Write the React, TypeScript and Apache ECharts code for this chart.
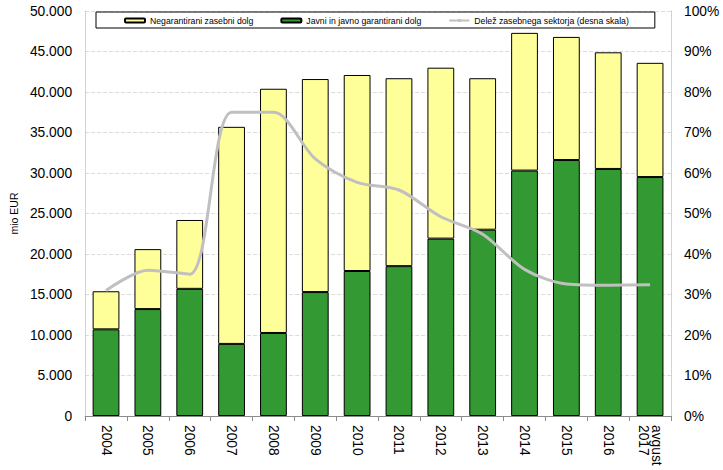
import React, { useEffect, useRef } from "react";
import * as echarts from "echarts";

const categories = ["2004", "2005", "2006", "2007", "2008", "2009", "2010", "2011", "2012", "2013", "2014", "2015", "2016", "avgust\n2017"];
const publicDebt = [10700, 13200, 15700, 8900, 10250, 15300, 17900, 18500, 21900, 23000, 30300, 31600, 30500, 29500];
const privateDebt = [4700, 7400, 8500, 26800, 30150, 26300, 24200, 23200, 21100, 18700, 17000, 15200, 14400, 14100];
const privateShare = [31, 36, 35, 75, 75, 63.5, 57.7, 55.8, 49.2, 44.9, 36.2, 32.6, 32.3, 32.4];

const FONT = "'Liberation Sans', Arial, sans-serif";

function fmtThousands(v: number): string {
  const s = Math.round(v).toString();
  return s.replace(/\B(?=(\d{3})+(?!\d))/g, ".");
}

export default function App() {
  const ref = useRef<HTMLDivElement>(null);
  useEffect(() => {
    if (!ref.current) return;
    const chart = echarts.init(ref.current, undefined, { renderer: "svg" });
    chart.setOption({
      animation: false,
      backgroundColor: "#ffffff",
      textStyle: { fontFamily: FONT },
      grid: { left: 76, right: 52, top: 11, bottom: 54, containLabel: false },
      legend: {
        left: 96,
        top: 12,
        padding: [4, 26, 3, 28],
        itemGap: 27,
        itemWidth: 20,
        itemHeight: 4,
        backgroundColor: "#ffffff",
        borderColor: "#000000",
        borderWidth: 1,
        borderRadius: 0,
        textStyle: { fontSize: 8.7, color: "#000", fontFamily: FONT },
        data: ["Negarantirani zasebni dolg", "Javni in javno garantirani dolg", "Delež zasebnega sektorja (desna skala)"],
      },
      xAxis: {
        type: "category",
        data: categories,
        boundaryGap: true,
        axisLine: { show: true, lineStyle: { color: "#8c8c8c", width: 1 } },
        axisTick: { show: true, alignWithLabel: false, length: 5, lineStyle: { color: "#8c8c8c" } },
        axisLabel: {
          interval: 0,
          rotate: -90,
          fontSize: 13.8,
          color: "#000",
          margin: 9,
          fontFamily: FONT,
          lineHeight: 13,
        },
      },
      yAxis: [
        {
          type: "value",
          min: 0,
          max: 50000,
          interval: 5000,
          name: "mio EUR",
          nameLocation: "middle",
          nameRotate: 90,
          nameGap: 57,
          nameTextStyle: { fontSize: 10.5, color: "#000", fontFamily: FONT },
          axisLine: { show: true, lineStyle: { color: "#c8c8c8", type: "dotted" } },
          axisTick: { show: false },
          axisLabel: {
            fontSize: 13.8,
            color: "#000",
            margin: 13,
            fontFamily: FONT,
            formatter: (v: number) => fmtThousands(v),
          },
          splitLine: { show: true, lineStyle: { color: "#dcdcdc", type: "dashed", width: 1 } },
        },
        {
          type: "value",
          min: 0,
          max: 100,
          interval: 10,
          position: "right",
          axisLine: { show: true, lineStyle: { color: "#c8c8c8", type: "dotted" } },
          axisTick: { show: false },
          axisLabel: {
            fontSize: 13.8,
            color: "#000",
            margin: 13,
            fontFamily: FONT,
            formatter: "{value}%",
          },
          splitLine: { show: false },
        },
      ],
      series: [
        {
          name: "Javni in javno garantirani dolg",
          type: "bar",
          stack: "debt",
          data: publicDebt,
          barWidth: "64%",
          itemStyle: { color: "#339933", borderColor: "#000000", borderWidth: 1 },
        },
        {
          name: "Negarantirani zasebni dolg",
          type: "bar",
          stack: "debt",
          data: privateDebt,
          barWidth: "64%",
          itemStyle: { color: "#FFFF99", borderColor: "#000000", borderWidth: 1 },
        },
        {
          name: "Delež zasebnega sektorja (desna skala)",
          type: "line",
          yAxisIndex: 1,
          data: privateShare,
          smooth: 0.3,
          symbol: "none",
          z: 5,
          lineStyle: { color: "#C0C0C0", width: 3 },
          itemStyle: { color: "#C0C0C0" },
        },
      ],
    });
    return () => chart.dispose();
  }, []);
  return <div ref={ref} style={{ position: "absolute", left: 0, top: 0, width: 723, height: 470 }} />;
}
